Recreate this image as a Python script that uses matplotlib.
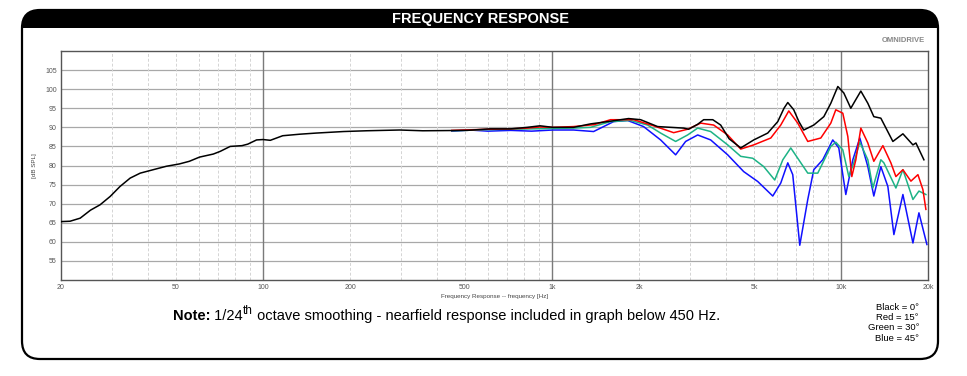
import matplotlib
matplotlib.use("Agg")
import matplotlib.pyplot as plt
from matplotlib.patches import FancyBboxPatch, Rectangle
from matplotlib.ticker import FixedLocator

plt.rcParams['font.family'] = ['Liberation Sans', 'DejaVu Sans']

# ---------------- data ----------------
black_f = [20, 21.5, 23.3, 25.3, 27.3, 29.6, 32, 34.7, 37.6, 41.7, 46.3, 51.3, 55.6, 60.3,
           67.3, 71.1, 77, 84.6, 88.6, 95, 100, 106, 117, 134, 153, 190, 228, 297, 357, 508,
           611, 719, 821, 909, 1006, 1187, 1359, 1557, 1840, 2026, 2320, 2854, 2970, 3192,
           3348, 3600, 3834, 4100, 4498, 4990, 5578, 6042, 6350, 6544, 6862, 7150, 7432,
           8050, 8722, 9220, 9750, 10226, 10812, 11200, 11712, 12384, 12988, 13736,
           15118, 16376, 17736, 18166, 19358]
black_db = [65.3, 65.4, 66.2, 68.3, 69.7, 71.9, 74.5, 76.7, 78.0, 78.9, 79.8, 80.4, 81.1, 82.2,
            83.0, 83.7, 85.0, 85.2, 85.6, 86.7, 86.8, 86.6, 87.8, 88.2, 88.5, 88.9, 89.1, 89.3,
            89.1, 89.2, 89.6, 89.6, 90.0, 90.4, 90.0, 90.0, 90.9, 91.5, 92.3, 92.0, 90.2, 89.8,
            89.5, 90.8, 92.0, 92.0, 90.6, 87.0, 84.6, 86.7, 88.5, 91.5, 95.0, 96.5, 94.6, 91.5,
            89.3, 90.6, 92.8, 96.3, 100.7, 99.0, 95.0, 97.0, 99.5, 96.3, 92.8, 92.4,
            86.3, 88.3, 85.4, 85.9, 81.5]

red_f = [450, 600, 720, 821, 909, 1006, 1187, 1400, 1594, 1916, 2246, 2636, 2946, 3270, 3626,
         4054, 4498, 4990, 5714, 6188, 6596, 7086, 7674, 8512, 9220, 9594, 10144, 10558,
         10900, 11254, 11712, 12384, 12988, 13960, 14878, 15486, 16376, 17456, 18458,
         19202, 19666]
red_db = [89.2, 89.5, 89.6, 89.8, 90.1, 90.0, 90.2, 90.7, 92.0, 92.0, 90.4, 88.6, 89.5, 91.1,
          90.6, 88.0, 84.3, 85.4, 87.2, 90.6, 94.3, 91.1, 86.3, 87.2, 91.1, 94.6, 93.7, 87.6,
          77.1, 81.5, 89.8, 85.9, 81.1, 85.2, 80.7, 77.1, 78.9, 75.9, 77.6, 73.7, 68.5]

green_f = [450, 600, 720, 850, 1006, 1187, 1359, 1594, 1870, 2142, 2376, 2678, 2946, 3192,
           3540, 4054, 4498, 4950, 5404, 5898, 6290, 6702, 7142, 7674, 8310, 9220, 9594,
           10144, 10642, 11076, 11618, 12384, 12888, 13736, 14072, 15486, 16376, 17736,
           18606, 19666]
green_db = [89.1, 89.4, 89.5, 89.6, 89.7, 89.8, 90.0, 91.5, 91.8, 90.6, 88.5, 86.3, 88.0, 89.8,
            88.9, 85.4, 82.4, 81.9, 79.7, 76.2, 81.5, 84.6, 81.5, 78.0, 78.0, 85.0, 86.1,
            84.1, 77.1, 80.7, 86.1, 81.5, 74.1, 81.5, 80.7, 74.1, 78.9, 71.1, 73.3, 72.4]

blue_f = [450, 520, 600, 720, 850, 1006, 1187, 1393, 1472, 1634, 1826, 2074, 2376, 2678, 2900,
          3192, 3540, 4054, 4606, 5152, 5806, 6188, 6544, 6808, 7200, 7674, 8050, 8646,
          9366, 9826, 10390, 10988, 11618, 12384, 12988, 13736, 14526, 15240, 16376,
          17736, 18606, 19826]
blue_db = [89.0, 89.3, 89.0, 89.2, 89.0, 89.3, 89.3, 88.9, 89.8, 91.5, 91.8, 90.2, 86.7, 82.8,
           86.3, 88.0, 86.7, 82.8, 78.4, 75.8, 72.0, 75.4, 80.7, 77.6, 59.1, 71.1, 78.9, 81.5,
           86.7, 84.6, 72.4, 81.5, 87.2, 79.7, 72.0, 79.7, 74.5, 61.9, 72.4, 59.7, 67.6, 59.3]

x_ticks = [20, 50, 100, 200, 500, 1000, 2000, 5000, 10000, 20000]
x_labels = ['20', '50', '100', '200', '500', '1k', '2k', '5k', '10k', '20k']
y_ticks = [55, 60, 65, 70, 75, 80, 85, 90, 95, 100, 105]
legend_lines = ['Black = 0°', 'Red = 15°', 'Green = 30°', 'Blue = 45°']

# ---------------- figure ----------------
W, H = 967, 376
fig = plt.figure(figsize=(W / 100, H / 100), dpi=100)

bg = fig.add_axes([0, 0, 1, 1])
bg.set_xlim(0, W)
bg.set_ylim(H, 0)
bg.axis('off')

frame = FancyBboxPatch((22 + 18, 10 + 18), 916 - 36, 349 - 36,
                       boxstyle="round,pad=18", facecolor='white',
                       edgecolor='black', linewidth=1.6, zorder=1)
bg.add_patch(frame)
bar = Rectangle((15, 5), 940, 23, facecolor='black', edgecolor='none', zorder=2)
bg.add_patch(bar)
bar.set_clip_path(frame)
bg.text(481, 19.5, 'FREQUENCY RESPONSE', color='white', fontsize=10.5,
        fontweight='bold', family=['Liberation Sans Narrow', 'Liberation Sans'],
        ha='center', va='center', zorder=3)
bg.text(925, 41, 'OMNIDRIVE', color='#888888', fontsize=5.5, fontweight='bold',
        ha='right', va='center', zorder=3)

# note line built from pieces
renderer = fig.canvas.get_renderer()
x0 = 173
yb = 320
pieces = [('Note:', 10.5, 'bold', 0), (' 1/24', 10.5, 'normal', 0),
          ('th', 8.5, 'normal', -6),
          (' octave smoothing - nearfield response included in graph below 450 Hz.', 10.5, 'normal', 0)]
for s, fs, fw, dy in pieces:
    t = bg.text(x0, yb + dy, s, fontsize=fs, fontweight=fw, ha='left', va='baseline',
                color='black', zorder=3)
    bb = t.get_window_extent(renderer)
    x0 += bb.width

for i, s in enumerate(legend_lines):
    bg.text(919, 307 + i * 10.5, s, fontsize=6.8, ha='right', va='center', color='black')

# ---------------- chart ----------------
ax = fig.add_axes([61 / W, 1 - 280 / H, (928 - 61) / W, (280 - 51) / H])
ax.set_xscale('log')
ax.set_xlim(20, 20000)
ax.set_ylim(50, 110)

ax.xaxis.set_major_locator(FixedLocator(x_ticks))
ax.set_xticklabels(x_labels)
ax.xaxis.set_minor_locator(FixedLocator([]))
ax.set_yticks(y_ticks)
ax.tick_params(axis='both', length=0, labelsize=5, colors='#555555', pad=3)

for y in y_ticks:
    ax.axhline(y, color='#a8a8a8', lw=0.9, zorder=0)
for dec in [10, 100, 1000, 10000]:
    for m in range(2, 10):
        f = dec * m
        if 20 < f < 20000:
            ax.axvline(f, color='#d4d4d4', lw=0.7, ls=(0, (3, 2)), zorder=0)
for f in [100, 1000, 10000]:
    ax.axvline(f, color='#7a7a7a', lw=1.0, zorder=0)
for s in ax.spines.values():
    s.set_color('#555555')
    s.set_linewidth(1.0)

ax.plot(blue_f, blue_db, color='#1010ff', lw=1.1, zorder=2, solid_joinstyle='round')
ax.plot(green_f, green_db, color='#1db386', lw=1.1, zorder=3, solid_joinstyle='round')
ax.plot(red_f, red_db, color='#ff0000', lw=1.1, zorder=4, solid_joinstyle='round')
ax.plot(black_f, black_db, color='black', lw=1.1, zorder=5, solid_joinstyle='round')

ax.set_ylabel('[dB SPL]', fontsize=4.5, color='#444444', labelpad=6)
ax.set_xlabel('Frequency Response -- frequency [Hz]', fontsize=4.5, color='#444444', labelpad=2)

fig.savefig('out.png', dpi=100)
